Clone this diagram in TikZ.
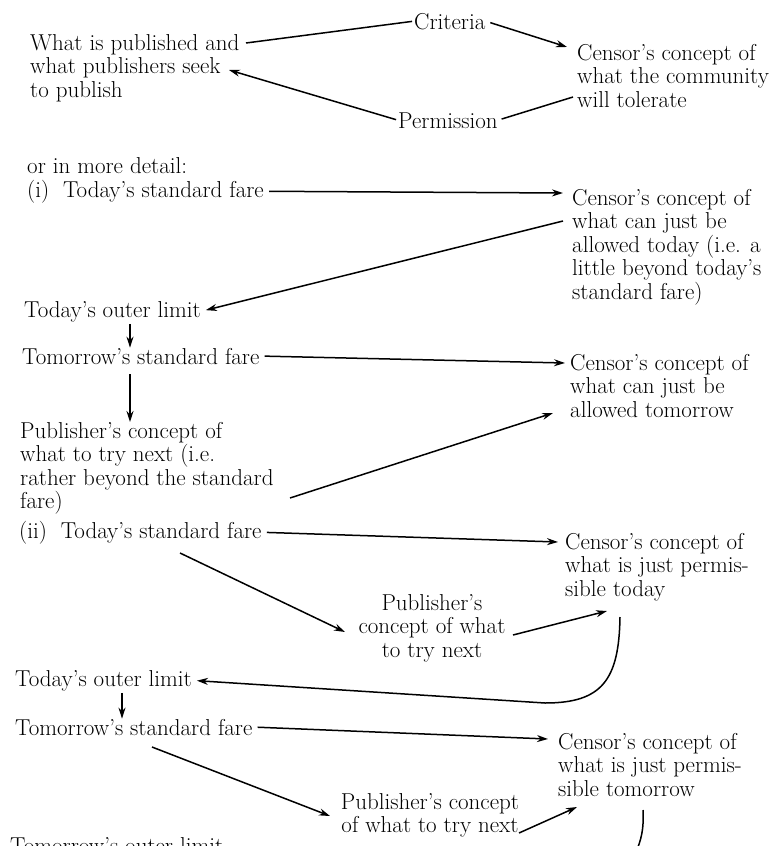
\documentclass[tikz,border=0pt]{standalone}
\usetikzlibrary{arrows.meta}
\tikzset{
	>={Stealth[length=11pt,width=7pt]},
	txt/.style={inner sep=0pt, font=\fontsize{23}{23.5}\selectfont, align=left},
	lin/.style={line width=1.5pt},
}
\begin{document}
\begin{tikzpicture}[x=1pt,y=-1pt]
	\useasboundingbox (0,0) rectangle (774,846);
	% Esquema general
		% Textos
			\node[txt, anchor=north west] (pub) at (30,34) {What is published and\\what publishers seek\\to publish};
			\node[txt, anchor=base west] (crit) at (414,29) {Criteria};
			\node[txt, anchor=north west] (censTol) at (577,44) {Censor's concept of\\what the community\\will tolerate};
			\node[txt, anchor=base west] (perm) at (398,128) {Permission};
		% Puntos
			\coordinate (pubA) at (246,43);
			\coordinate (pubB) at (229,70);
			\coordinate (censTolA) at (567,47);
			\coordinate (censTolC) at (573,97);
		% Flechas
			\draw[lin, shorten >=2pt] (pubA) -- (crit.west);
			\draw[lin,->, shorten <=5pt] (crit.east) -- (censTolA);
			\draw[lin, shorten >=4pt] (censTolC) -- (perm.east);
			\draw[lin,->, shorten <=2pt] (perm.west) -- (pubB);

	% (i)
		% Textos
			\node[txt, anchor=base west] (detail) at (27,173) {or in more detail:};
			\node[txt, anchor=base west] (stdA) at (27,197) {(i)\hspace{0.6em}Today's standard fare};
			\node[txt, anchor=north west] (censToday) at (572,189) {Censor's concept of\\what can just be\\allowed today (i.e. a\\little beyond today's\\standard fare)};
			\node[txt, anchor=base west] (outA) at (24,317) {Today's outer limit};
			\node[txt, anchor=base west] (tmrA) at (22,364) {Tomorrow's standard fare};
			\node[txt, anchor=north west] (censTmr) at (570,354) {Censor's concept of\\what can just be\\allowed tomorrow};
			\node[txt, anchor=north west] (tryA) at (20,422) {Publisher's concept of\\what to try next (i.e.\\rather beyond the standard\\fare)};
		% Puntos
			\coordinate (colA) at (130,0);
			\coordinate (censTodayA) at (563,193);
			\coordinate (censTodayB) at (563,221);
			\coordinate (censTmrA) at (565,363);
			\coordinate (censTmrC) at (553,413);
			\coordinate (tryAc) at (290,498);
		% Flechas
			\draw[lin,->, shorten <=5pt] (stdA.east) -- (censTodayA);
			\draw[lin,->, shorten >=5pt] (censTodayB) -- (outA.east);
			\draw[lin,->] ([yshift=-2pt]outA.south -| colA) -- (tmrA.north -| colA);
			\draw[lin,->, shorten <=5pt] (tmrA.east) -- (censTmrA);
			\draw[lin,->] ([yshift=-10pt]tmrA.south -| colA) -- (tryA.north -| colA);
			\draw[lin,->] (tryAc) -- (censTmrC);

	% (ii)
		% Textos
			\node[txt, anchor=base west] (stdB) at (19,538) {(ii)\hspace{0.6em}Today's standard fare};
			\node[txt, anchor=north west] (censPerm) at (565,533) {Censor's concept of\\what is just permis-\\sible today};
			\node[txt, anchor=north, align=center] (tryB) at (432,594) {Publisher's\\concept of what\\to try next};
			\node[txt, anchor=base west] (outB) at (15,686) {Today's outer limit};
			\node[txt, anchor=base west] (tmrB) at (15,735) {Tomorrow's standard fare};
			\node[txt, anchor=north west] (censPermT) at (558,733) {Censor's concept of\\what is just permis-\\sible tomorrow};
			\node[txt, anchor=north, align=center] (tryC) at (430,793) {Publisher's concept\\of what to try next};
			\node[txt, anchor=base west] (outC) at (10,853) {Tomorrow's outer limit};
		% Puntos
			\coordinate (colB) at (122,0);
			\coordinate (censPermA) at (558,542);
			\coordinate (stdBfoot) at (180,553);
			\coordinate (tryBin) at (345,632);
			\coordinate (tryBout) at (513,635);
			\coordinate (censPermC) at (607,611);
			\coordinate (censPermD) at (620,617);
			\coordinate (censPermTA) at (548,739);
			\coordinate (tmrBfoot) at (152,747);
			\coordinate (tryCin) at (330,816);
			\coordinate (tryCout) at (519,833);
			\coordinate (censPermTC) at (577,807);
			\coordinate (censPermTD) at (643,810);
		% Flechas
			\draw[lin,->, shorten <=5pt] (stdB.east) -- (censPermA);
			\draw[lin,->] (stdBfoot) -- (tryBin);
			\draw[lin,->] (tryBout) -- (censPermC);
			\draw[lin,->, shorten >=5pt] (censPermD) .. controls (619,680) and (602,703) .. (545,703) -- (outB.east);
			\draw[lin,->] ([yshift=-2pt]outB.south -| colB) -- (tmrB.north -| colB);
			\draw[lin,->, shorten <=5pt] (tmrB.east) -- (censPermTA);
			\draw[lin,->] (tmrBfoot) -- (tryCin);
			\draw[lin,->] (tryCout) -- (censPermTC);
			\draw[lin] (censPermTD) .. controls (644,830) and (641,840) .. (636,852);
\end{tikzpicture}
\end{document}
